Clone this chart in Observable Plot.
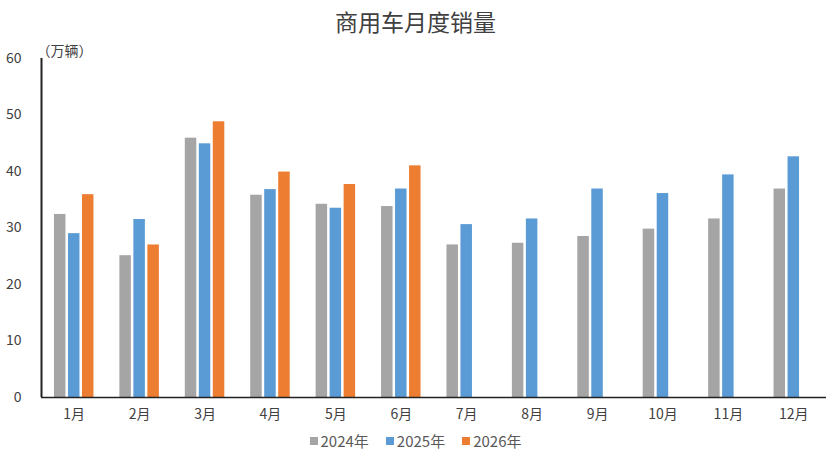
<!DOCTYPE html>
<html>
<head>
<meta charset="utf-8">
<script src="https://cdn.jsdelivr.net/npm/d3@7"></script>
<script src="https://cdn.jsdelivr.net/npm/@observablehq/plot@0.6"></script>
<style>
  html, body { margin: 0; padding: 0; background: #fff; }
  body { width: 831px; height: 455px; overflow: hidden; font-family: "Noto Sans CJK SC", "Noto Sans", sans-serif; }
  #title { height: 36px; line-height: 42px; text-align: center; font-size: 23px; color: #404040; }
  #legend { display: flex; justify-content: center; gap: 17px; font-size: 15px; color: #595959; margin-top: 3px; }
  #legend span { display: inline-flex; align-items: center; }
  #legend i { display: inline-block; width: 8px; height: 8px; margin-right: 3px; }
</style>
</head>
<body>
<div id="title">商用车月度销量</div>
<div id="chart"></div>
<div id="legend"></div>
<script>
const months = ["1月","2月","3月","4月","5月","6月","7月","8月","9月","10月","11月","12月"];
const seriesNames = ["2024年","2025年","2026年"];
const values2024 = [32.4, 25.1, 45.9, 35.8, 34.2, 33.8, 27.0, 27.3, 28.5, 29.8, 31.6, 36.9];
const values2025 = [29.0, 31.5, 44.9, 36.8, 33.5, 36.9, 30.6, 31.6, 36.9, 36.1, 39.4, 42.6];
const values2026 = [35.9, 27.0, 48.8, 39.9, 37.7, 41.0];
const yTicks = [0, 10, 20, 30, 40, 50, 60];
const unitLabel = "（万辆）";
const colors = ["#a5a5a5", "#5b9bd5", "#ed7d31"];

const seriesValues = [values2024, values2025, values2026];
const rows = [];
seriesValues.forEach((vals, s) => vals.forEach((v, i) => rows.push({month: months[i], series: seriesNames[s], value: v})));

const width = 831, marginLeft = 41, marginRight = 5;
const band = (width - marginLeft - marginRight) / months.length;
const barW = 11.5, step = 14;
const inset = (band - barW) / 2;

const bars = seriesNames.map((name, s) =>
  Plot.barY(rows.filter(d => d.series === name), {
    x: "month", y: "value", fill: colors[s],
    insetLeft: inset, insetRight: inset, dx: (s - 1) * step
  })
);

const chart = Plot.plot({
  width, height: 391,
  marginLeft, marginRight, marginTop: 22, marginBottom: 30,
  style: {fontFamily: '"Noto Sans CJK SC", "Noto Sans", sans-serif', background: "#fff"},
  x: {domain: months, padding: 0, round: false, label: null},
  y: {domain: [0, 60], label: null},
  marks: [
    ...bars,
    Plot.axisX({tickSize: 0, tickPadding: 12, fontSize: 14, color: "#404040", label: null}),
    Plot.axisY({ticks: yTicks, tickSize: 0, tickPadding: 20, fontSize: 14, color: "#404040", label: null}),
    Plot.ruleY([0], {stroke: "#222", strokeWidth: 1.5}),
    Plot.ruleX([months[0]], {x: d => d, y1: 0, y2: 60, dx: -band / 2, stroke: "#222", strokeWidth: 2}),
    Plot.text([unitLabel], {text: d => d, frameAnchor: "top-left", textAnchor: "start", dx: -5, dy: -12, fontSize: 14, fill: "#404040"})
  ]
});
document.getElementById("chart").appendChild(chart);

const legend = document.getElementById("legend");
seriesNames.forEach((name, s) => {
  const span = document.createElement("span");
  span.innerHTML = `<i style="background:${colors[s]}"></i>${name}`;
  legend.appendChild(span);
});
</script>
</body>
</html>
